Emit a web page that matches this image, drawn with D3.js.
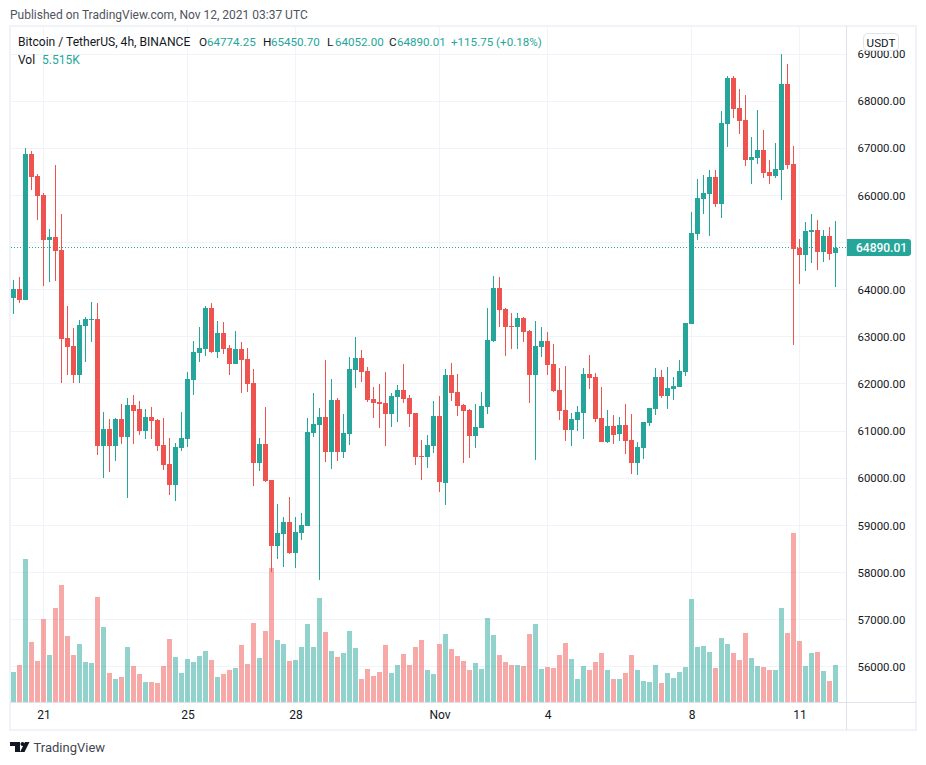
<!DOCTYPE html>
<html><head><meta charset="utf-8">
<script src="https://cdn.jsdelivr.net/npm/d3@7/dist/d3.min.js"></script>
<style>html,body{margin:0;padding:0;background:#fff}svg{display:block}text{font-family:Roboto,"Open Sans",sans-serif}</style>
</head><body><div id="c"></div>
<script>
const opens=[63825,64016,63782,66879,66412,66009,65055,65119,64843,62976,62807,62192,63231,63358,63379,60686,61046,60686,61258,60877,61555,61470,61004,61301,61237,60707,60304,59858,60643,60834,62085,62658,62743,63613,62679,
63082,62764,62424,62743,62531,62021,60325,60728,59964,58564,58819,59073,58416,58840,58988,60961,61131,61300,60558,61661,60558,60940,62297,62552,62276,61682,61618,61597,61364,61725,61873,61703,61385,60473,60452,
60686,61322,59901,62192,61831,61556,61449,60898,61068,61513,62913,64037,63592,63231,63210,63401,63125,62192,62786,62913,62425,61874,61449,61025,61237,61386,62213,62149,61280,60771,61110,60940,61131,60813,60325,
60643,61174,61471,62149,61746,61895,61937,62255,63273,65182,65925,66031,66391,65819,67515,68491,67855,67600,66752,66794,66964,66497,66412,66540,68364,66667,64885,64737,65225,65267,64800,65140,64774];
const highs=[64206,64270,66999,66943,66455,66052,65288,66646,65606,63655,63188,63358,63422,63740,63719,61407,61258,61280,61576,61704,61767,61640,61470,61513,61258,61280,60855,60749,61407,62255,62913,63210,63655,63719,63337,
63315,62827,63124,62891,62764,62318,60855,61512,59964,59455,59179,59604,59179,59264,61279,61809,61491,62509,62106,61703,61364,62573,62997,62721,62361,61937,62000,62255,61809,61979,62424,61767,61385,60812,60919,
61640,61746,62319,62446,62213,61577,61471,61577,61831,63613,64292,64270,63613,63507,63507,63422,63146,63337,63210,63104,62849,62340,62383,61386,61534,62340,62616,62234,61937,61449,61343,61301,61577,61365,60771,
61195,61492,62340,62298,62361,62149,62510,63295,65649,66349,66434,66540,66540,67791,68533,68533,68258,68130,67240,67812,67388,66752,67112,69000,68788,67049,65076,65437,65606,65479,65267,65331,65450];
const lows=[63485,63719,63782,66115,65479,64079,64164,64185,62022,62192,62022,62022,62467,62891,60495,60007,60134,60367,60728,59583,60728,60919,60834,60834,60580,60177,59646,59519,60580,60664,61767,62467,62595,62658,62552,
62637,62191,62424,61809,61831,59837,60155,59922,58013,58289,58119,58395,58098,58691,58988,60876,57843,60346,60197,60367,60431,60706,61915,62043,61618,61279,61067,60685,61088,61194,61597,61088,60282,59964,60219,
60537,59710,59430,61640,61322,60325,60431,60644,61068,61365,62892,63210,62595,62743,62743,62892,61598,60389,62574,62192,61831,61237,60792,60686,61004,60834,61895,61195,60771,60750,60729,60792,60516,60092,60071,
60410,61110,61343,61704,61471,61661,61937,62170,63273,65055,65606,65140,65755,65522,67028,67643,67303,66625,66243,66667,66370,66243,66370,65903,66561,62828,64122,64397,64567,64419,64588,64631,64052];
const closes=[64016,63782,66879,66391,65988,65055,65119,64822,62955,62785,62192,63252,63379,63379,60686,61046,60686,61258,60877,61555,61428,61004,61301,61216,60686,60283,59858,60664,60855,62107,62679,62764,63613,62679,63082,
62743,62424,62743,62509,62000,60325,60728,59943,58564,58840,59073,58416,58861,59010,60982,61152,61300,60558,61661,60558,60961,62318,62552,62255,61661,61597,61576,61364,61746,61873,61682,61364,60452,60452,60706,
61322,59922,62192,61810,61534,61428,60898,61089,61534,62934,64037,63570,63210,63210,63401,63104,62192,62807,62913,62404,61852,61428,61025,61259,61407,62213,62128,61259,60771,61110,60919,61131,60792,60325,60665,
61195,61492,62149,61746,61916,61958,62276,63295,65203,65946,66052,66391,65819,67537,68491,67834,67579,66752,66815,66964,66476,66412,66561,68364,66646,64864,64737,65246,65267,64800,65140,64758,64890];
const volumes=[4.5,5.55,21.45,9,6.15,12.45,7.05,14.1,17.55,9.9,7.05,8.7,6,5.85,15.75,11.25,4.35,3.45,3.75,8.25,5.4,4.2,3,3,2.85,5.4,9.45,6.75,4.35,6.45,6,6.9,7.65,6.3,3.75,4.2,4.8,5.1,8.55,5.7,11.85,6.6,10.65,20.1,9.3,8.7,6.15,6.3,8.25,11.7,
8.25,15.6,10.5,7.65,6.75,7.35,10.65,8.1,3.45,4.95,3.9,4.5,8.55,4.35,5.55,7.2,5.55,8.25,9.3,4.8,4.2,8.7,10.2,7.95,6.9,6.15,4.8,5.85,4.95,12.6,10.05,7.05,6,5.55,5.55,5.4,10.2,11.7,4.95,5.25,5.1,7.05,8.85,6.45,3.45,5.4,
4.8,6,7.35,4.8,3.45,3.45,4.35,7.05,4.8,3.15,3,5.55,2.85,4.35,3.6,4.5,5.25,15.45,8.25,8.4,7.5,5.1,9.6,8.7,7.35,6.3,10.35,6.6,5.4,5.25,4.8,4.8,14.1,10.35,25.35,9.15,5.4,7.35,7.5,4.65,3.15,5.515];
const priceTicks=[69000,68000,67000,66000,65000,64000,63000,62000,61000,60000,59000,58000,57000,56000];
const timeTicks=[5,29,47,71,89,113,131];
const timeLabels=["21","25","28","Nov","4","8","11"];
const lastPrice=64890.01;

const W=926,H=765;
const paneL=10,paneR=846.5,paneT=26,paneB=702.5;
const x=d3.scaleLinear().domain([0,137]).range([13.5,835.5]);
const y=d3.scaleLinear().domain([56000,69000]).range([666.8,54]);
const v=d3.scaleLinear().domain([0,30]).range([702,502]);
const UP="#26a69a",DN="#ef5350",GRID="#f0f3fa",LINE="#e0e3eb",TXT="#131722";
const up=i=>closes[i]>=opens[i];
const px=d=>Math.floor(d)+.5;

const svg=d3.select("#c").append("svg").attr("width",W).attr("height",H);
svg.append("rect").attr("width",W).attr("height",H).attr("fill","#fff");

// grid
const g=svg.append("g").attr("shape-rendering","crispEdges");
g.selectAll(".h").data(priceTicks).join("line").attr("x1",paneL).attr("x2",paneR)
 .attr("y1",d=>px(y(d))).attr("y2",d=>px(y(d))).attr("stroke",GRID);
g.selectAll(".v").data(timeTicks).join("line").attr("y1",paneT).attr("y2",paneB)
 .attr("x1",d=>px(x(d))).attr("x2",d=>px(x(d))).attr("stroke",GRID);

const idx=d3.range(opens.length);
// volume
svg.append("g").attr("shape-rendering","crispEdges").selectAll("rect").data(idx).join("rect")
 .attr("x",i=>Math.floor(x(i))-2).attr("width",5)
 .attr("y",i=>v(volumes[i])).attr("height",i=>v(0)-v(volumes[i]))
 .attr("fill",i=>up(i)?UP:DN).attr("fill-opacity",.5);

// last-price dotted line
svg.append("line").attr("x1",paneL+1).attr("x2",paneR).attr("y1",px(y(lastPrice))).attr("y2",px(y(lastPrice)))
 .attr("stroke",UP).attr("stroke-dasharray","1 2").attr("shape-rendering","crispEdges");

// candles
const c=svg.append("g").attr("shape-rendering","crispEdges");
c.selectAll(".w").data(idx).join("rect")
 .attr("x",i=>Math.floor(x(i))).attr("width",1)
 .attr("y",i=>y(highs[i])).attr("height",i=>y(lows[i])-y(highs[i]))
 .attr("fill",i=>up(i)?UP:DN);
c.selectAll(".b").data(idx).join("rect")
 .attr("x",i=>Math.floor(x(i))-2).attr("width",5)
 .attr("y",i=>y(Math.max(opens[i],closes[i])))
 .attr("height",i=>Math.max(1,Math.abs(y(opens[i])-y(closes[i]))))
 .attr("fill",i=>up(i)?UP:DN);

// frame
const f=svg.append("g").attr("shape-rendering","crispEdges").attr("fill","none");
f.append("rect").attr("x",paneL-.5).attr("y",paneT-.5).attr("width",916-paneL+.5).attr("height",730-paneT+.5).attr("stroke",GRID).attr("stroke-width",2);
f.append("line").attr("x1",paneR).attr("x2",paneR).attr("y1",paneT).attr("y2",730).attr("stroke",LINE);
f.append("line").attr("x1",paneL).attr("x2",916).attr("y1",paneB).attr("y2",paneB).attr("stroke",LINE);

// axes
const ax=svg.append("g").attr("transform",`translate(${paneR},0)`)
 .call(d3.axisRight(y).tickValues(priceTicks).tickFormat(d3.format(".2f")).tickSize(0).tickPadding(11));
ax.select(".domain").remove();
ax.selectAll("text").attr("font-family","Roboto").attr("font-size",11.4).attr("fill",TXT);
const tx=svg.append("g").attr("transform",`translate(0,${paneB})`)
 .call(d3.axisBottom(x).tickValues(timeTicks).tickFormat((d,i)=>timeLabels[i]).tickSize(0).tickPadding(8));
tx.select(".domain").remove();
tx.selectAll("text").attr("font-family","Roboto").attr("font-size",12).attr("fill",TXT);

// USDT tag
svg.append("rect").attr("x",863.5).attr("y",33.5).attr("width",35).attr("height",17).attr("rx",4)
 .attr("fill","#fff").attr("stroke",LINE);
svg.append("text").attr("x",881).attr("y",46.5).attr("text-anchor","middle").attr("font-size",11.6).attr("fill",TXT).text("USDT");

// last price tag
svg.append("path").attr("d","M847 239H908a3 3 0 0 1 3 3V253a3 3 0 0 1 -3 3H847Z").attr("fill",UP);
svg.append("text").attr("x",856).attr("y",252).attr("font-size",12).attr("font-weight",500).attr("fill","#fff").text(d3.format(".2f")(lastPrice));

// header + legend
const T=(x0,y0,s,col,fs)=>svg.append("text").attr("x",x0).attr("y",y0).attr("font-size",fs||12).attr("fill",col).text(s);
T(10,19,"Published on TradingView.com, Nov 12, 2021 03:37 UTC","#50535e",12);
T(18,46,"Bitcoin / TetherUS, 4h, BINANCE",TXT,12.1);
[[199,"O",207,"64774.25"],[263,"H",271,"65450.70"],[327,"L",335,"64052.00"],[389,"C",397,"64890.01"]].forEach(a=>{
 T(a[0],46,a[1],TXT,11.8);T(a[2],46,a[3],UP,11.6);});
T(451,46,"+115.75 (+0.18%)",UP,11.6);
T(18,64,"Vol",TXT,12);
T(42,64,"5.515K",UP,12);

// footer logo
svg.append("path").attr("d","M10 742H20V752H15V746H10ZM22.5 746a2 2 0 1 1 .01 0ZM25 742H29.5L24.5 752H20Z").attr("fill",TXT);
T(33.5,752,"TradingView","#434651",13);
</script></body></html>
